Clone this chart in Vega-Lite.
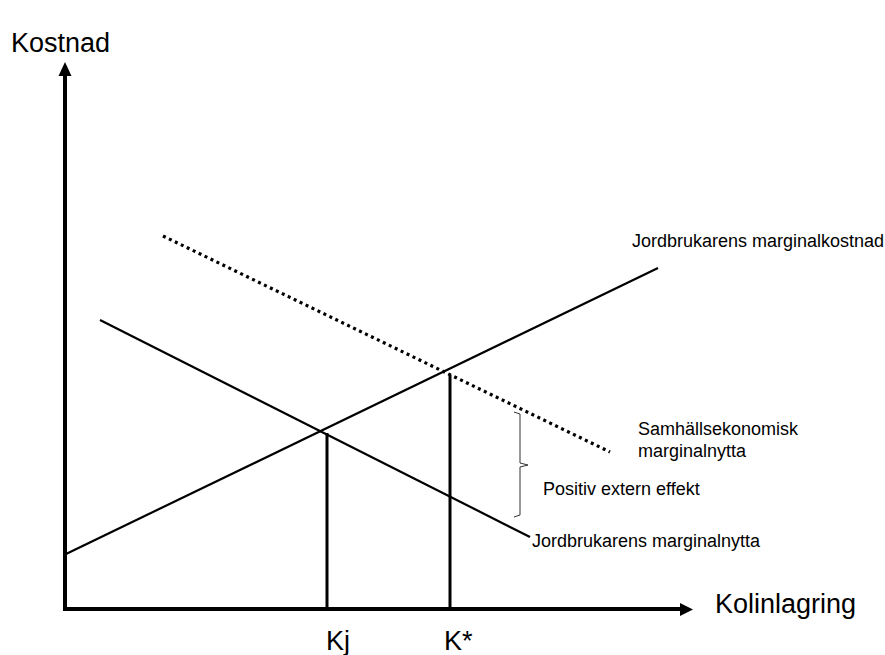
{
  "$schema": "https://vega.github.io/schema/vega-lite/v6.json",
  "width": 885,
  "height": 655,
  "padding": 0,
  "autosize": {"type": "fit", "contains": "padding"},
  "background": "white",
  "config": {"view": {"stroke": null}, "text": {"font": "Liberation Sans"}},
  "datasets": {
    "axes": [
      {"s": "yaxis", "x": 65, "y": 46, "o": 0}, {"s": "yaxis", "x": 65, "y": 580, "o": 1},
      {"s": "xaxis", "x": 65, "y": 46, "o": 0}, {"s": "xaxis", "x": 681, "y": 46, "o": 1}
    ],
    "curves": [
      {"s": "mc", "x": 66, "y": 101, "o": 0}, {"s": "mc", "x": 658, "y": 387, "o": 1},
      {"s": "mb", "x": 100, "y": 335, "o": 0}, {"s": "mb", "x": 530, "y": 118, "o": 1}
    ],
    "social": [
      {"s": "smb", "x": 163, "y": 419, "o": 0}, {"s": "smb", "x": 610, "y": 203, "o": 1}
    ],
    "verticals": [
      {"s": "kj", "x": 327, "y": 46, "o": 0}, {"s": "kj", "x": 327, "y": 222, "o": 1},
      {"s": "ks", "x": 450, "y": 46, "o": 0}, {"s": "ks", "x": 450, "y": 280, "o": 1}
    ],
    "brace": [
      {"x": 514, "y": 243, "o": 0}, {"x": 520, "y": 241, "o": 1}, {"x": 520, "y": 192, "o": 2},
      {"x": 528, "y": 190, "o": 3}, {"x": 520, "y": 188, "o": 4}, {"x": 520, "y": 140, "o": 5},
      {"x": 514, "y": 138, "o": 6}
    ],
    "labelsBig": [
      {"t": "Kostnad", "x": 11, "y": 603},
      {"t": "Kolinlagring", "x": 715, "y": 42},
      {"t": "Kj", "x": 326, "y": 5},
      {"t": "K*", "x": 444, "y": 5}
    ],
    "labelsSmall": [
      {"t": "Jordbrukarens marginalkostnad", "x": 632, "y": 408},
      {"t": "Samhällsekonomisk", "x": 638, "y": 220},
      {"t": "marginalnytta", "x": 638, "y": 198},
      {"t": "Positiv extern effekt", "x": 543, "y": 160},
      {"t": "Jordbrukarens marginalnytta", "x": 532, "y": 108}
    ]
  },
  "encoding": {
    "x": {"field": "x", "type": "quantitative", "axis": null, "scale": {"domain": [0, 885], "nice": false, "zero": false}},
    "y": {"field": "y", "type": "quantitative", "axis": null, "scale": {"domain": [0, 655], "nice": false, "zero": false}}
  },
  "layer": [
    {
      "data": {"name": "axes"},
      "mark": {"type": "line", "color": "black", "strokeWidth": 4, "strokeCap": "square"},
      "encoding": {"detail": {"field": "s"}, "order": {"field": "o"}}
    },
    {
      "data": {"values": [{"x": 65, "y": 586}]},
      "mark": {"type": "point", "shape": "M-0.93,1L0.93,1L0,-1Z", "size": 196, "filled": true, "color": "black", "opacity": 1, "strokeWidth": 0}
    },
    {
      "data": {"values": [{"x": 686.5, "y": 45.5}]},
      "mark": {"type": "point", "shape": "M-1,-1L1,0L-1,1Z", "size": 169, "filled": true, "color": "black", "opacity": 1, "strokeWidth": 0}
    },
    {
      "data": {"name": "curves"},
      "mark": {"type": "line", "color": "black", "strokeWidth": 2.2},
      "encoding": {"detail": {"field": "s"}, "order": {"field": "o"}}
    },
    {
      "data": {"name": "social"},
      "mark": {"type": "line", "color": "black", "strokeWidth": 3.2, "strokeDash": [3, 3.6], "strokeCap": "butt"},
      "encoding": {"detail": {"field": "s"}, "order": {"field": "o"}}
    },
    {
      "data": {"name": "verticals"},
      "mark": {"type": "line", "color": "black", "strokeWidth": 3},
      "encoding": {"detail": {"field": "s"}, "order": {"field": "o"}}
    },
    {
      "data": {"name": "brace"},
      "mark": {"type": "line", "color": "#333333", "strokeWidth": 1},
      "encoding": {"order": {"field": "o"}}
    },
    {
      "data": {"name": "labelsBig"},
      "mark": {"type": "text", "align": "left", "baseline": "alphabetic", "fontSize": 27, "color": "black"},
      "encoding": {"text": {"field": "t"}}
    },
    {
      "data": {"name": "labelsSmall"},
      "mark": {"type": "text", "align": "left", "baseline": "alphabetic", "fontSize": 18, "color": "black"},
      "encoding": {"text": {"field": "t"}}
    }
  ]
}
